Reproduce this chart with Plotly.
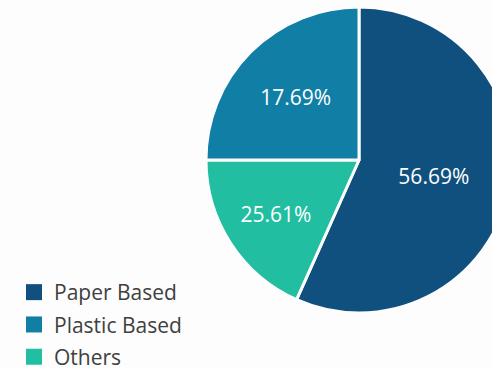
import plotly.graph_objects as go

# Data
categories = ["Paper Based", "Plastic Based", "Others"]
shown_percent = [56.69, 17.69, 25.61]        # percentages printed on the slices
slice_share = [56.69, 25.0, 18.31]           # angular share of each slice as drawn
colors = ["#10507f", "#117ea6", "#21bea1"]

labels_text = [f"{v:.2f}%" for v in shown_percent]

# clockwise drawing order: Paper, Others, Plastic
order = [0, 2, 1]

W, H = 512, 368

fig = go.Figure()
fig.add_trace(go.Pie(
    labels=[categories[i] for i in order],
    values=[slice_share[i] for i in order],
    text=[labels_text[i] for i in order],
    textinfo="text",
    sort=False,
    direction="clockwise",
    rotation=0,
    marker=dict(colors=[colors[i] for i in order], line=dict(color="#fdfdfd", width=3)),
    textfont=dict(color="white", size=21, family="Open Sans"),
    insidetextorientation="horizontal",
    textposition="inside",
    showlegend=False,
    hoverinfo="label+text",
    domain=dict(x=[206 / W, 1.0], y=[(H - 313) / H, (H - 7) / H]),
))

for name, col in zip(categories, colors):
    fig.add_trace(go.Scatter(
        x=[None], y=[None], mode="markers", name=name, legendgroup=name,
        marker=dict(symbol="square", size=16, color=col),
        showlegend=True, hoverinfo="skip",
    ))

fig.update_layout(
    width=W, height=H,
    autosize=False,
    margin=dict(l=0, r=0, t=0, b=0, autoexpand=False),
    paper_bgcolor="#fdfdfd",
    plot_bgcolor="#fdfdfd",
    font=dict(family="Open Sans", color="#404040"),
    xaxis=dict(visible=False),
    yaxis=dict(visible=False),
    legend=dict(
        x=14 / W, xanchor="left",
        y=(H - 272) / H, yanchor="top",
        font=dict(size=21, color="#404040", family="Open Sans"),
        bgcolor="rgba(0,0,0,0)",
        tracegroupgap=2,
    ),
)

fig.write_html(
    "out.html",
    config={"displayModeBar": False, "responsive": False},
    post_script="document.body.style.margin='0';document.body.style.overflow='hidden';document.documentElement.style.overflow='hidden';",
)
